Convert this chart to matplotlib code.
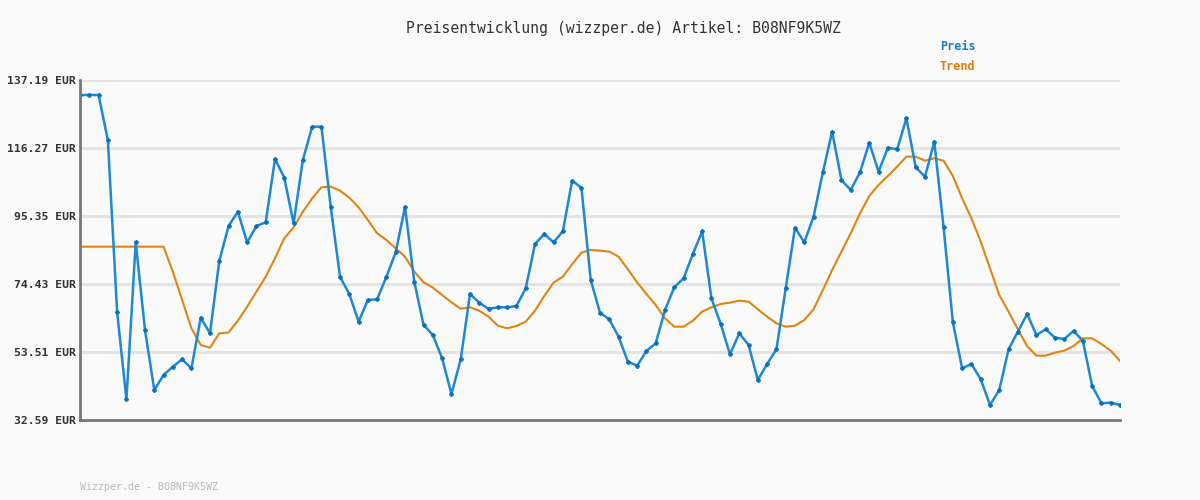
import numpy as np
import matplotlib.pyplot as plt

# Preisverlauf
preis = [132.58, 132.58, 132.58, 118.73, 65.72, 38.95, 87.25, 60.28, 41.82, 46.43,
         48.99, 51.25, 48.48, 64.07, 59.26, 81.51, 92.27, 96.68, 87.25, 92.27,
         93.40, 112.89, 107.14, 93.09, 112.58, 122.83, 122.83, 98.21, 76.68, 71.35,
         62.83, 69.51, 69.72, 76.68, 84.18, 98.21, 75.14, 61.81, 58.74, 51.57,
         40.59, 51.25, 71.35, 68.68, 66.74, 67.26, 67.26, 67.66, 73.10, 86.74,
         89.81, 87.25, 90.64, 106.21, 104.06, 75.66, 65.60, 63.57, 58.22, 50.53,
         49.30, 53.82, 56.19, 66.43, 73.41, 76.18, 83.66, 90.64, 70.03, 62.12,
         52.80, 59.26, 55.66, 44.90, 49.82, 54.34, 73.10, 91.75, 87.25, 95.13,
         108.79, 121.29, 106.42, 103.35, 108.79, 117.90, 108.98, 116.36, 115.87, 125.41,
         110.33, 107.45, 118.21, 91.87, 62.64, 48.48, 49.82, 45.11, 37.20, 41.82,
         54.34, 59.75, 65.20, 58.74, 60.49, 57.91, 57.51, 59.97, 56.99, 43.05,
         37.72, 37.93, 37.20]

trend = [85.91, 85.91, 85.91, 85.91, 85.91, 85.91, 85.91, 85.91, 85.91, 85.91,
         78.2, 69.5, 60.80, 55.66, 54.83, 59.26, 59.5, 63.14, 67.45, 72.07,
         76.68, 82.33, 88.49, 91.87, 96.68, 100.78, 104.18, 104.37, 103.14, 101.0,
         98.03, 94.12, 90.03, 87.97, 85.41, 82.83, 78.22, 74.95, 73.33, 71.04,
         68.80, 66.84, 67.26, 66.21, 64.37, 61.60, 60.80, 61.5, 62.83, 66.21,
         70.74, 74.85, 76.68, 80.49, 84.07, 84.89, 84.7, 84.38, 82.84, 78.95,
         74.95, 71.35, 67.97, 63.87, 61.30, 61.30, 63.14, 65.92, 67.26, 68.28,
         68.68, 69.31, 69.0, 66.64, 64.37, 62.33, 61.30, 61.60, 63.35, 66.64,
         72.58, 78.74, 84.38, 90.03, 96.19, 101.50, 104.89, 107.66, 110.53, 113.6,
         113.6, 112.37, 113.1, 112.37, 107.66, 100.78, 94.65, 87.47, 79.26, 71.04,
         65.92, 60.49, 55.35, 52.38, 52.38, 53.32, 53.94, 55.35, 57.72, 57.72,
         55.97, 53.94, 50.74]

yticks = [32.59, 53.51, 74.43, 95.35, 116.27, 137.19]
ytick_labels = ["%.2f EUR" % v for v in yticks]

x = np.arange(len(preis))

fig = plt.figure(figsize=(12, 5), dpi=100, facecolor="#fafafa")
ax = fig.add_axes([80/1200, 80/500, 1040/1200, 340/500])
ax.set_facecolor("#fafafa")

for v in yticks[1:]:
    ax.axhline(v, color="#e4e4e4", lw=2.2, zorder=1)

ax.plot(x, trend, color="#e08414", lw=1.5, zorder=2)
ax.plot(x, preis, color="#1f88d2", lw=1.8, zorder=3,
        marker="P", markersize=3, markerfacecolor="#0a6fb8", markeredgecolor="#0a6fb8",
        markeredgewidth=0.5)

ax.set_xlim(0, len(preis) - 1)
ax.set_ylim(yticks[0], yticks[-1])
ax.set_xticks([])
ax.set_yticks(yticks)
ax.set_yticklabels(ytick_labels, fontfamily="DejaVu Sans Mono", fontweight="bold",
                   fontsize=8.2, color="#333333")
ax.tick_params(axis="y", length=0, pad=3)

for s in ["top", "right"]:
    ax.spines[s].set_visible(False)
for s in ["left", "bottom"]:
    ax.spines[s].set_color("#777777")
    ax.spines[s].set_linewidth(2)
ax.spines["left"].set_zorder(4)

fig.text(623/1200, 1 - 28/500, "Preisentwicklung (wizzper.de) Artikel: B08NF9K5WZ",
         ha="center", va="center", fontfamily="DejaVu Sans Mono", fontsize=10.6, color="#333333")
fig.text(940/1200, 1 - 47/500, "Preis", ha="left", va="center",
         fontfamily="DejaVu Sans Mono", fontweight="bold", fontsize=8.5, color="#1a7fc6")
fig.text(940/1200, 1 - 67/500, "Trend", ha="left", va="center",
         fontfamily="DejaVu Sans Mono", fontweight="bold", fontsize=8.5, color="#e07c10")
fig.text(80/1200, 1 - 487/500, "Wizzper.de - B08NF9K5WZ", ha="left", va="center",
         fontfamily="DejaVu Sans Mono", fontsize=7.2, color="#bbbbbb")

fig.savefig("out.png", dpi=100, facecolor=fig.get_facecolor())
